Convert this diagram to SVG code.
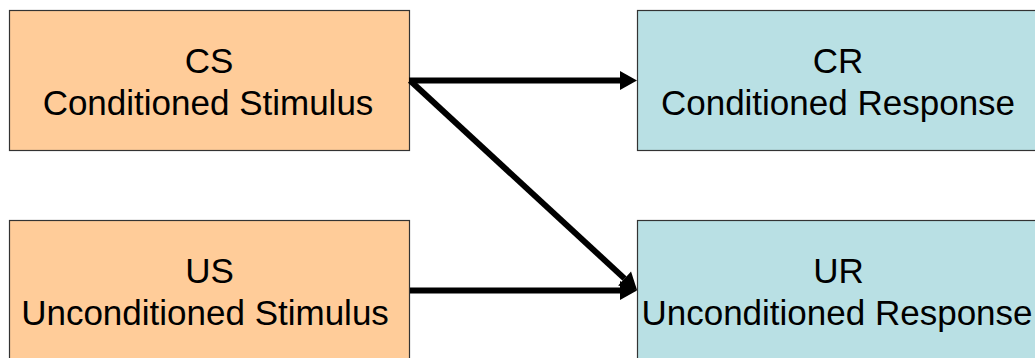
<svg xmlns="http://www.w3.org/2000/svg" width="1035" height="358" viewBox="0 0 1035 358">
  <style>
    .stim { fill: #FFCC99; stroke: #333333; stroke-width: 1.2; }
    .resp { fill: #B9E0E4; stroke: #333333; stroke-width: 1.2; }
    .label { font-family: "Liberation Sans", Arial, sans-serif; font-size: 35px; fill: #000000; text-anchor: middle; }
    .link { stroke: #000000; stroke-width: 6; fill: none; }
  </style>
  <defs>
    <marker id="head" markerUnits="userSpaceOnUse" markerWidth="18" markerHeight="19" refX="0" refY="9.5" orient="auto" overflow="visible">
      <path d="M0,0 L17,9.5 L0,19 Z" fill="#000000"/>
    </marker>
  </defs>

  <rect width="1035" height="358" fill="#FFFFFF"/>

  <g id="node-cs">
    <rect class="stim" x="9.5" y="10.5" width="400" height="140"/>
    <text class="label" x="209" y="73">CS</text>
    <text class="label" x="208" y="115">Conditioned Stimulus</text>
  </g>

  <g id="node-us">
    <rect class="stim" x="9.5" y="220.5" width="400" height="150"/>
    <text class="label" x="209.5" y="283">US</text>
    <text class="label" x="205" y="325">Unconditioned Stimulus</text>
  </g>

  <g id="node-cr">
    <rect class="resp" x="637.5" y="10.5" width="400" height="140"/>
    <text class="label" x="838" y="73">CR</text>
    <text class="label" x="838" y="115">Conditioned Response</text>
  </g>

  <g id="node-ur">
    <rect class="resp" x="637.5" y="220.5" width="400" height="150"/>
    <text class="label" x="838.5" y="283">UR</text>
    <text class="label" x="837" y="325">Unconditioned Response</text>
  </g>

  <g id="connectors">
    <line class="link" x1="409" y1="80.5" x2="620" y2="80.5" marker-end="url(#head)"/>
    <line class="link" x1="410" y1="80.5" x2="624.6" y2="278.6" marker-end="url(#head)"/>
    <line class="link" x1="410" y1="290.5" x2="620" y2="290.5" marker-end="url(#head)"/>
  </g>
</svg>
